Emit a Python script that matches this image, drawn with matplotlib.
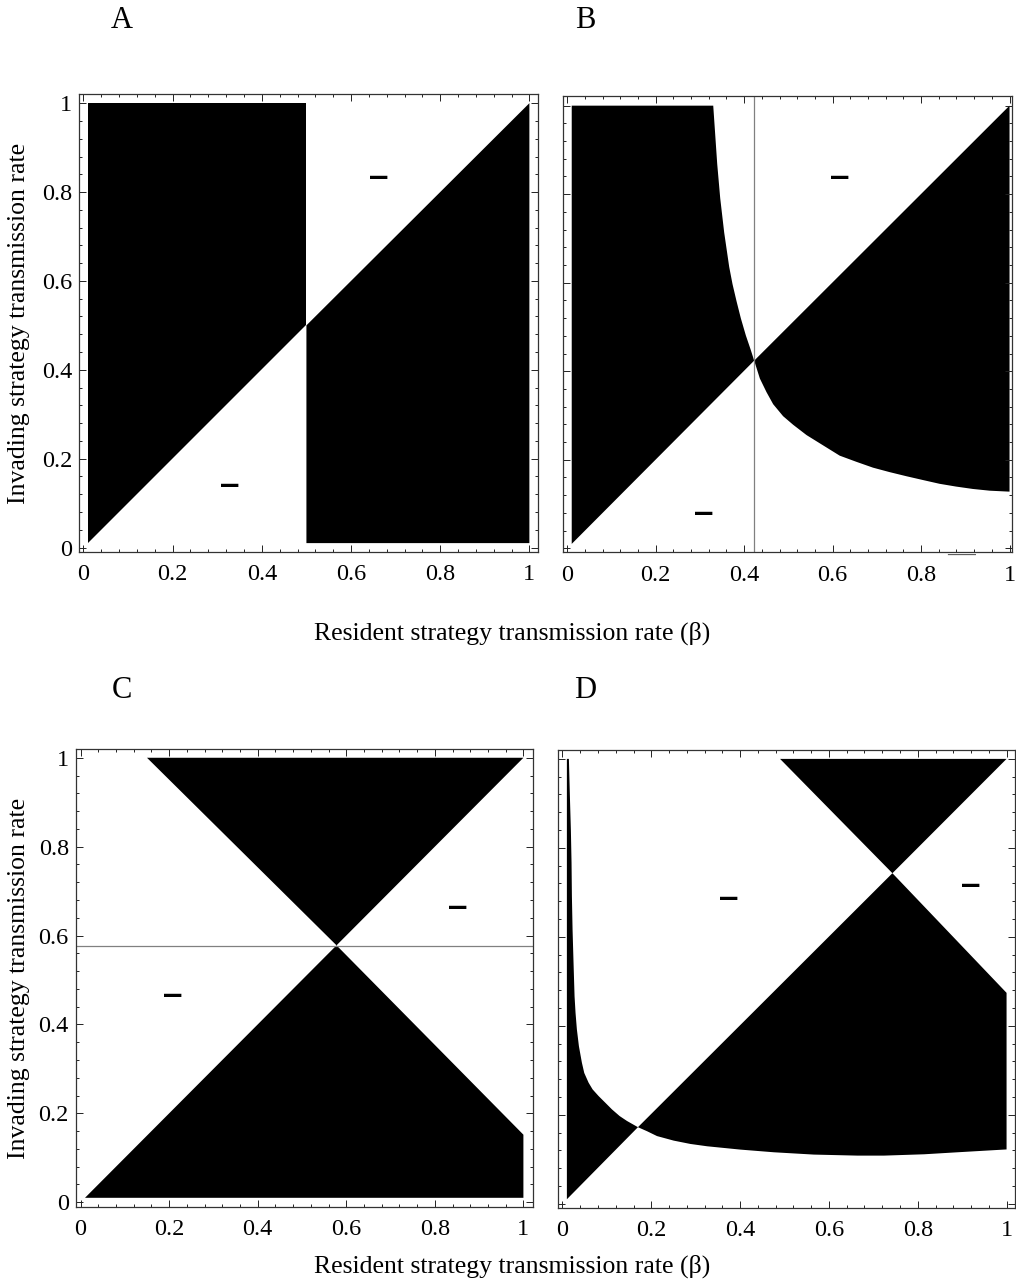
import matplotlib
matplotlib.use("Agg")
import matplotlib.pyplot as plt
import numpy as np
from matplotlib.ticker import MultipleLocator

plt.rcParams['font.family'] = ['Liberation Serif', 'DejaVu Serif']

# ---------------- data ----------------
# Panel A: pairwise invasibility regions
A_left_x = [0.01, 0.01, 0.50, 0.50]
A_left_y = [0.01, 1.00, 1.00, 0.50]
A_right_x = [0.50, 1.00, 1.00, 0.50]
A_right_y = [0.50, 1.00, 0.01, 0.01]
A_minus = [(0.662, 0.831), (0.328, 0.139)]

# Panel B: boundary curve (upper branch -> singular point -> lower branch)
B_curve_x = [0.330, 0.3337, 0.339, 0.3458, 0.3548, 0.3661, 0.3736, 0.3827,
             0.3925, 0.4038, 0.4144, 0.4226,
             0.4354, 0.4505, 0.4655, 0.488, 0.5107, 0.541, 0.5784, 0.616,
             0.6537, 0.6913, 0.729, 0.767, 0.804, 0.842, 0.879, 0.917,
             0.955, 1.000]
B_curve_y = [1.000, 0.9458, 0.8683, 0.7908, 0.7132, 0.6357, 0.5969, 0.5582,
             0.5194, 0.4807, 0.4496, 0.424,
             0.3837, 0.3527, 0.3256, 0.2985, 0.2791, 0.2558, 0.2326, 0.2093,
             0.1954, 0.1822, 0.1721, 0.1628, 0.1543, 0.1457, 0.1395, 0.1341,
             0.1302, 0.128]
B_singular = 0.4226
B_minus = [(0.616, 0.837), (0.308, 0.078)]

# Panel C
C_top_x = [0.15, 1.00, 0.578]
C_top_y = [1.00, 1.00, 0.578]
C_bot_x = [0.01, 0.578, 1.00, 1.00]
C_bot_y = [0.01, 0.578, 0.152, 0.01]
C_singular = 0.577
C_minus = [(0.852, 0.661), (0.208, 0.464)]

# Panel D: lower boundary curve
D_curve_x = [0.0145, 0.0168, 0.019, 0.0205, 0.0213, 0.0228, 0.025, 0.0273,
             0.0295, 0.0325, 0.0371, 0.0438, 0.0491, 0.0589, 0.0679, 0.0814,
             0.0965, 0.1115, 0.1288, 0.1453, 0.170,
             0.1904, 0.213, 0.2506, 0.2882, 0.3257, 0.4009, 0.4761, 0.5663,
             0.664, 0.724, 0.8143, 0.8895, 1.000]
D_curve_y = [1.000, 0.915, 0.840, 0.766, 0.691, 0.616, 0.541, 0.466,
             0.429, 0.392, 0.354, 0.317, 0.294, 0.272, 0.257, 0.242,
             0.227, 0.212, 0.197, 0.186, 0.172,
             0.163, 0.152, 0.1418, 0.1343, 0.1291, 0.1216, 0.1156, 0.1104,
             0.1081, 0.1081, 0.1111, 0.1156, 0.122]
D_cross_low = 0.170
D_top_x = [0.49, 1.00, 0.743]
D_top_y = [1.00, 1.00, 0.743]
D_upper_cross = 0.743
D_right_top = 0.474
D_minus = [(0.374, 0.686), (0.919, 0.715)]

tick_vals = [0, 0.2, 0.4, 0.6, 0.8, 1]
tick_labels = ['0', '0.2', '0.4', '0.6', '0.8', '1']

xlabel = 'Resident strategy transmission rate (\u03b2)'
ylabel = 'Invading strategy transmission rate'

# ---------------- figure ----------------
W, H = 1016, 1285
fig = plt.figure(figsize=(W / 100, H / 100), dpi=100)


def add_axes(l, r, t, b):
    return fig.add_axes([l / W, 1 - b / H, (r - l) / W, (b - t) / H])


axA = add_axes(79, 538.3, 94.3, 552)
axB = add_axes(562.7, 1012, 95.7, 552.3)
axC = add_axes(75.7, 532.7, 749, 1206.7)
axD = add_axes(558, 1015, 750, 1207.7)

limits = {
    'A': ((-0.01, 1.02), (-0.01, 1.02)),
    'B': ((-0.0104, 1.0056), (-0.009, 1.0225)),
    'C': ((-0.011, 1.021), (-0.010, 1.0197)),
    'D': ((-0.010, 1.019), (-0.009, 1.020)),
}


def style(ax, key, ylabels=True):
    xl, yl = limits[key]
    ax.set_xlim(*xl)
    ax.set_ylim(*yl)
    ax.set_xticks(tick_vals)
    ax.set_xticklabels(tick_labels)
    ax.set_yticks(tick_vals)
    if ylabels:
        ax.set_yticklabels(tick_labels)
    else:
        ax.set_yticklabels([])
    ax.xaxis.set_minor_locator(MultipleLocator(0.04))
    ax.yaxis.set_minor_locator(MultipleLocator(0.04))
    ax.tick_params(which='both', direction='in', top=True, right=True,
                   width=0.7, colors='#222222', labelcolor='black')
    ax.tick_params(which='major', length=5)
    ax.tick_params(which='minor', length=2.5)
    ax.tick_params(axis='x', labelsize=17.5, pad=9)
    ax.tick_params(axis='y', labelsize=17.5, pad=5)
    for s in ax.spines.values():
        s.set_linewidth(0.9)
        s.set_color('#333333')


def minus(ax, pts):
    for (x, y) in pts:
        ax.text(x, y, '\u2212', family='DejaVu Sans', fontweight='bold',
                fontsize=20, ha='center', va='center', color='black')


# Panel A
axA.fill(A_left_x, A_left_y, color='black', lw=0)
axA.fill(A_right_x, A_right_y, color='black', lw=0)
minus(axA, A_minus)
style(axA, 'A')

# Panel B
bx = np.array(B_curve_x)
by = np.array(B_curve_y)
k = int(np.argmin(np.abs(bx - B_singular)))
left_poly_x = [0.01, 0.01] + list(bx[:k + 1])
left_poly_y = [0.01, 1.00] + list(by[:k + 1])
axB.fill(left_poly_x, left_poly_y, color='black', lw=0)
right_poly_x = list(bx[k:]) + [1.0]
right_poly_y = list(by[k:]) + [1.0]
axB.fill(right_poly_x, right_poly_y, color='black', lw=0)
axB.axvline(B_singular, color='#808080', lw=0.9)
minus(axB, B_minus)
axB.text(0.891, -0.016, '\u2014', fontsize=20, ha='center', va='center',
         color='#555555', clip_on=False)
style(axB, 'B', ylabels=False)

# Panel C
axC.fill(C_top_x, C_top_y, color='black', lw=0)
axC.fill(C_bot_x, C_bot_y, color='black', lw=0)
axC.axhline(C_singular, color='#808080', lw=0.9)
minus(axC, C_minus)
style(axC, 'C')

# Panel D
dx = np.array(D_curve_x)
dy = np.array(D_curve_y)
j = int(np.argmin(np.abs(dx - D_cross_low)))
axD.fill([0.01, 0.01] + list(dx[:j + 1]), [0.01, 1.0] + list(dy[:j + 1]),
         color='black', lw=0)
main_x = [dx[j], D_upper_cross, 1.0] + list(dx[j:][::-1])
main_y = [dy[j], D_upper_cross, D_right_top] + list(dy[j:][::-1])
axD.fill(main_x, main_y, color='black', lw=0)
axD.fill(D_top_x, D_top_y, color='black', lw=0)
minus(axD, D_minus)
style(axD, 'D', ylabels=False)

# Panel letters and shared labels
for letter, (px, py) in {'A': (122, 20), 'B': (585, 20),
                         'C': (122, 690), 'D': (585, 690)}.items():
    fig.text(px / W, 1 - py / H, letter, fontsize=22, ha='center', va='center')

fig.text(512 / W, 1 - 633 / H, xlabel, fontsize=18.5, ha='center', va='center')
fig.text(512 / W, 1 - 1266 / H, xlabel, fontsize=18.5, ha='center', va='center')
fig.text(19 / W, 1 - 323 / H, ylabel, fontsize=18.5, ha='center', va='center',
         rotation=90)
fig.text(19 / W, 1 - 978 / H, ylabel, fontsize=18.5, ha='center', va='center',
         rotation=90)

fig.savefig('out.png', dpi=100, facecolor='white')
